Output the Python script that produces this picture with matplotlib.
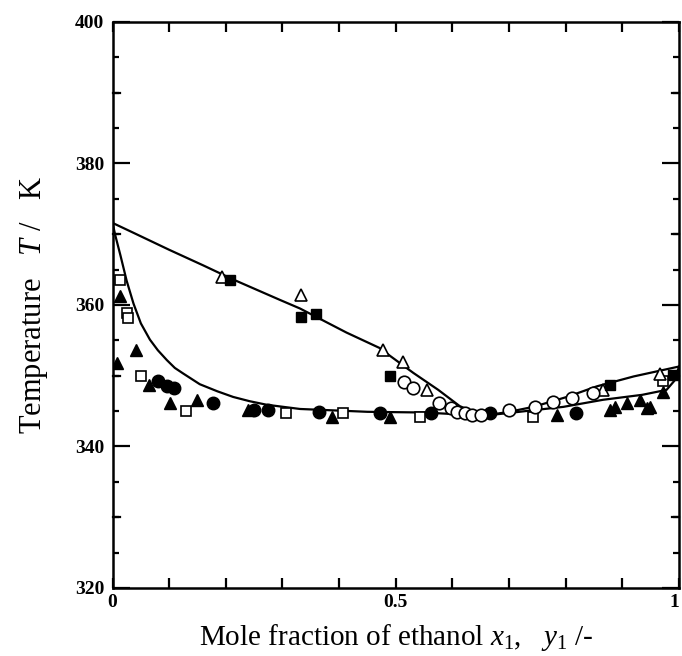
import matplotlib
matplotlib.use("Agg")
import matplotlib.pyplot as plt
from matplotlib.ticker import MultipleLocator, FixedLocator

plt.rcParams['font.family'] = ['Liberation Serif', 'DejaVu Serif']
plt.rcParams['mathtext.fontset'] = 'custom'
plt.rcParams['mathtext.rm'] = 'Liberation Serif'
plt.rcParams['mathtext.it'] = 'Liberation Serif:italic'

# ---- model curves ----
dew_left_x = [0.0, 0.037, 0.1, 0.16, 0.213, 0.296, 0.331, 0.413, 0.472, 0.49, 0.531, 0.575, 0.613, 0.64, 0.66]
dew_left_T = [371.6, 370.2, 367.8, 365.6, 363.6, 360.7, 359.5, 356.1, 353.9, 352.8, 350.4, 348.0, 345.7, 344.8, 344.4]
dew_right_x = [0.66, 0.70, 0.743, 0.802, 0.855, 0.92, 1.0]
dew_right_T = [344.4, 344.9, 345.6, 347.0, 348.5, 349.9, 351.3]
bub_x = [0.0, 0.005, 0.014, 0.025, 0.037, 0.05, 0.066, 0.08, 0.096, 0.11, 0.125, 0.154, 0.185, 0.213, 0.242,
         0.272, 0.331, 0.45, 0.55, 0.62, 0.66,
         0.696, 0.796, 0.866, 0.935, 0.978, 0.992, 1.0]
bub_T = [371.6, 369.8, 367.0, 363.4, 360.2, 357.4, 355.1, 353.6, 352.2, 351.1, 350.3, 348.8, 347.8, 347.0, 346.4,
         345.9, 345.3, 344.9, 344.8, 344.5, 344.4,
         344.7, 345.6, 346.6, 347.3, 348.0, 349.3, 351.3]

# ---- liquid data ----
liq_tri_x = [0.014, 0.041, 0.008, 0.065, 0.101, 0.149, 0.240, 0.387, 0.490, 0.784, 0.878, 0.887, 0.908, 0.931, 0.943, 0.949, 0.972]
liq_tri_T = [361.3, 353.7, 351.8, 348.7, 346.2, 346.6, 345.2, 344.2, 344.1, 344.5, 345.2, 345.6, 346.1, 346.6, 345.4, 345.6, 347.7]
liq_cir_x = [0.081, 0.096, 0.109, 0.177, 0.249, 0.275, 0.365, 0.472, 0.563, 0.666, 0.819]
liq_cir_T = [349.3, 348.5, 348.2, 346.1, 345.2, 345.2, 344.9, 344.8, 344.7, 344.7, 344.7]
liq_sq_x = [0.014, 0.025, 0.027, 0.051, 0.129, 0.307, 0.406, 0.543, 0.743, 0.972]
liq_sq_T = [363.6, 358.8, 358.2, 350.0, 345.0, 344.7, 344.7, 344.2, 344.1, 349.2]

# ---- vapour data ----
vap_tri_x = [0.194, 0.333, 0.477, 0.513, 0.556, 0.866, 0.966]
vap_tri_T = [364.0, 361.4, 353.6, 352.0, 348.0, 348.0, 350.3]
vap_sq_x = [0.207, 0.332, 0.359, 0.489, 0.878, 0.990]
vap_sq_T = [363.5, 358.3, 358.7, 350.0, 348.7, 350.1]
vap_cir_x = [0.514, 0.531, 0.577, 0.598, 0.608, 0.622, 0.635, 0.650, 0.700, 0.746, 0.778, 0.811, 0.849]
vap_cir_T = [349.1, 348.2, 346.2, 345.4, 344.9, 344.7, 344.5, 344.5, 345.1, 345.6, 346.3, 346.8, 347.6]

fig = plt.figure(figsize=(6.82, 6.56), dpi=100)
ax = fig.add_axes([0.165, 0.1037, 0.8306, 0.8628])

lw = 1.6
ax.plot(dew_left_x, dew_left_T, color='black', lw=lw, zorder=2)
ax.plot(dew_right_x, dew_right_T, color='black', lw=lw, zorder=2)
ax.plot(bub_x, bub_T, color='black', lw=lw, zorder=2)

mew = 1.2
ax.plot(liq_tri_x, liq_tri_T, ls='none', marker='^', ms=8.5, mfc='black', mec='black', zorder=3)
ax.plot(liq_cir_x, liq_cir_T, ls='none', marker='o', ms=9, mfc='black', mec='black', zorder=3)
ax.plot(liq_sq_x, liq_sq_T, ls='none', marker='s', ms=6.5, mfc='white', mec='black', mew=mew, zorder=3)
ax.plot(vap_tri_x, vap_tri_T, ls='none', marker='^', ms=8.5, mfc='white', mec='black', mew=mew, zorder=3)
ax.plot(vap_sq_x, vap_sq_T, ls='none', marker='s', ms=7.5, mfc='black', mec='black', zorder=3)
ax.plot(vap_cir_x, vap_cir_T, ls='none', marker='o', ms=9, mfc='white', mec='black', mew=mew, zorder=3)

ax.set_xlim(0, 1)
ax.set_ylim(320, 400)

for s in ax.spines.values():
    s.set_linewidth(1.8)

ax.xaxis.set_major_locator(FixedLocator([0, 0.5, 1]))
ax.xaxis.set_minor_locator(MultipleLocator(0.1))
ax.set_xticklabels(['0', '0.5', '1'])
ax.yaxis.set_major_locator(MultipleLocator(20))
ax.yaxis.set_minor_locator(MultipleLocator(5))

ax.tick_params(axis='x', which='both', direction='in', top=True, bottom=True, length=7, width=1.6,
               labelsize=14, pad=4)
ax.tick_params(axis='y', which='major', direction='in', left=True, right=True, length=12, width=1.6,
               labelsize=14, pad=6)
ax.tick_params(axis='y', which='minor', direction='in', left=True, right=True, length=4.5, width=1.6)
for lab in ax.get_xticklabels() + ax.get_yticklabels():
    lab.set_fontweight('bold')
ax.get_xticklabels()[-1].set_horizontalalignment('right')

# medium-length ticks at the 10 K positions
for yv in [330, 350, 370, 390]:
    ax.plot([0, 0.013], [yv, yv], color='black', lw=1.6, clip_on=False, zorder=1)
    ax.plot([0.987, 1.0], [yv, yv], color='black', lw=1.6, clip_on=False, zorder=1)

ax.set_xlabel(r'Mole fraction of ethanol $x_1$,   $y_1$ /-', fontsize=21, labelpad=8)
ax.set_ylabel(r'Temperature   $T$ /   K', fontsize=22, labelpad=18)

fig.savefig('out.png', dpi=100)
